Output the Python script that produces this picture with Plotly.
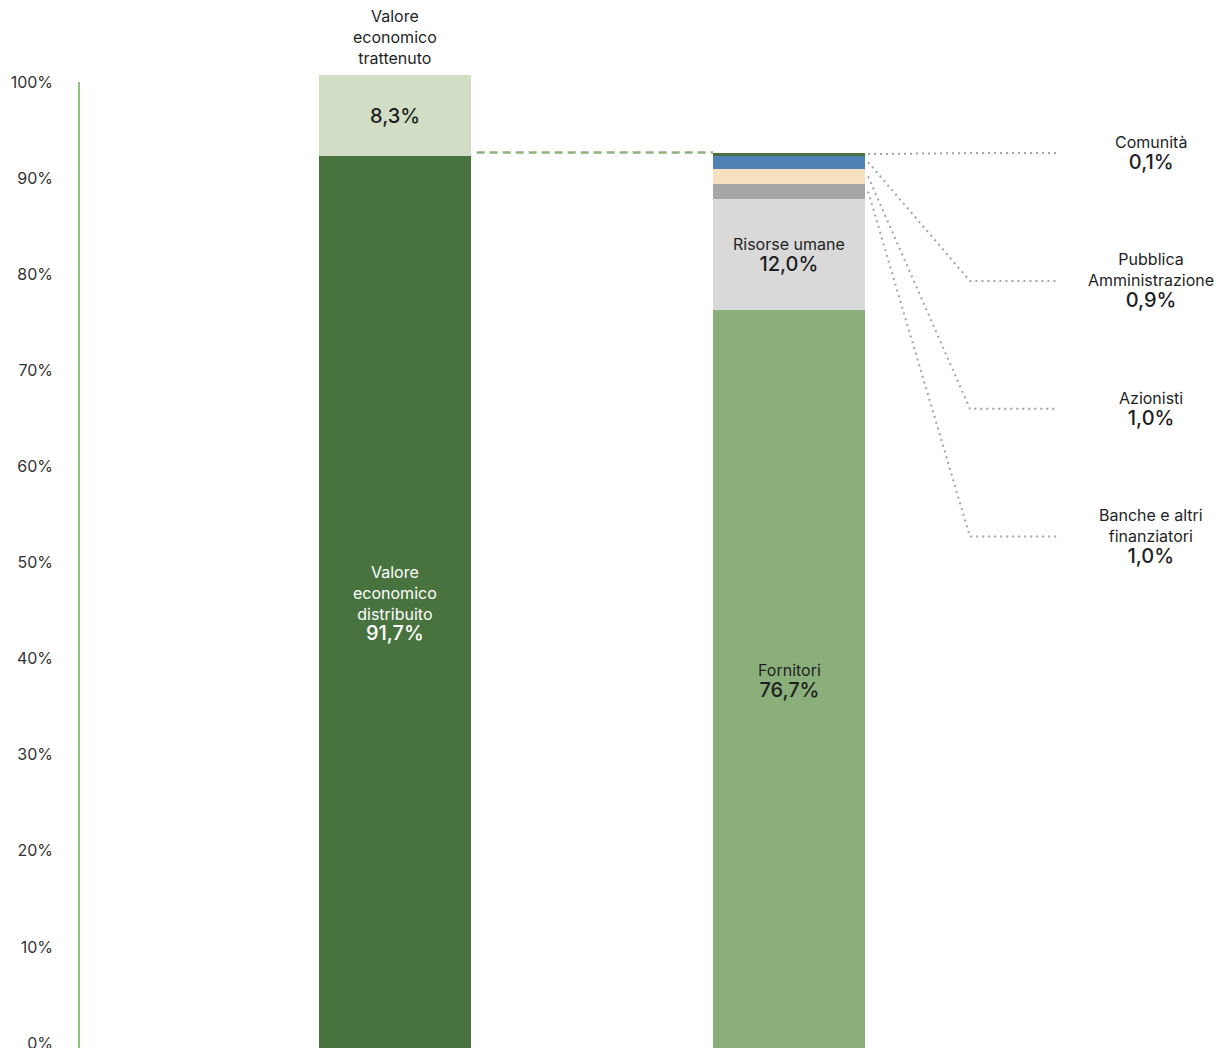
import plotly.graph_objects as go

# ---------------- data ----------------
LEFT_NAMES = ["Valore economico distribuito", "Valore economico trattenuto"]
LEFT_VALUES = [91.7, 8.3]
LEFT_LABELS = ["91,7%", "8,3%"]

RIGHT_NAMES = ["Fornitori", "Risorse umane", "Banche e altri finanziatori",
               "Azionisti", "Pubblica Amministrazione", "Comunità"]
RIGHT_LABELS = ["76,7%", "12,0%", "1,0%", "1,0%", "0,9%", "0,1%"]
# segment heights as drawn in the picture (small segments are enlarged there)
RIGHT_HEIGHTS = [75.9, 11.4, 1.5, 1.6, 1.35, 0.3]

Y_TICK_VALUES = [0, 10, 20, 30, 40, 50, 60, 70, 80, 90, 100]
Y_TICK_TEXT = ["0%", "10%", "20%", "30%", "40%", "50%", "60%", "70%", "80%", "90%", "100%"]

# ---------------- style ----------------
LEFT_COLORS = ["#48733F", "#D1DEC5"]
RIGHT_COLORS = ["#8AAF7B", "#D9D9D9", "#A6A6A6", "#F5E1C0", "#4F82B4", "#48733F"]
FONT = "Inter, Liberation Sans, Arial, sans-serif"
TXT = "#1f1f1f"
BAR_W = 0.386
LEFT_X, RIGHT_X = 0, 1
X_START, X_KNEE, X_END, X_LABEL = 1.2005, 1.459, 1.683, 1.919
LABEL_ROWS = {"Comunità": 92.0, "Pubblica Amministrazione": 78.9,
              "Azionisti": 65.8, "Banche e altri finanziatori": 52.7}
WRAPPED = {"Banche e altri finanziatori": "Banche e altri<br>finanziatori",
           "Pubblica Amministrazione": "Pubblica<br>Amministrazione"}

def pct(s):
    return f"<span style='font-size:20px;font-weight:500'>{s}</span>"

fig = go.Figure()

for name, v, c in zip(LEFT_NAMES, LEFT_VALUES, LEFT_COLORS):
    fig.add_trace(go.Bar(x=[LEFT_X], y=[v], width=BAR_W, name=name,
                         marker=dict(color=c, line=dict(width=0)),
                         hoverinfo="skip", showlegend=False))

for name, v, c in zip(RIGHT_NAMES, RIGHT_HEIGHTS, RIGHT_COLORS):
    fig.add_trace(go.Bar(x=[RIGHT_X], y=[v], width=BAR_W, name=name,
                         marker=dict(color=c, line=dict(width=0)),
                         hoverinfo="skip", showlegend=False))

# empty trace so that the percentage axis (y2) is drawn
fig.add_trace(go.Scatter(x=[], y=[], yaxis="y2", mode="markers",
                         hoverinfo="skip", showlegend=False))

# cumulative positions
left_bottoms = [sum(LEFT_VALUES[:i]) for i in range(len(LEFT_VALUES))]
right_bottoms = [sum(RIGHT_HEIGHTS[:i]) for i in range(len(RIGHT_HEIGHTS))]
right_top = sum(RIGHT_HEIGHTS)

# dashed link between the two bars
fig.add_trace(go.Scatter(x=[LEFT_X + BAR_W / 2 + 0.014, RIGHT_X - BAR_W / 2],
                         y=[right_top, right_top], mode="lines",
                         line=dict(color="#8DB47F", width=2.5, dash="8px,5px"),
                         hoverinfo="skip", showlegend=False))

# dotted connectors for the small segments
for i in range(2, len(RIGHT_NAMES)):
    mid = right_bottoms[i] + RIGHT_HEIGHTS[i] / 2
    row = LABEL_ROWS[RIGHT_NAMES[i]]
    fig.add_trace(go.Scatter(x=[X_START, X_KNEE, X_END], y=[mid, row, row],
                             mode="lines",
                             line=dict(color="#A3A3A3", width=2, dash="2px,4px"),
                             hoverinfo="skip", showlegend=False))
    fig.add_annotation(x=X_LABEL, y=row, xref="x", yref="y",
                       text=WRAPPED.get(RIGHT_NAMES[i], RIGHT_NAMES[i]) + "<br>" + pct(RIGHT_LABELS[i]),
                       showarrow=False, xanchor="center", yanchor="middle",
                       font=dict(family=FONT, size=16, color=TXT))

# labels inside bars
fig.add_annotation(x=LEFT_X, y=left_bottoms[0] + LEFT_VALUES[0] / 2, xref="x", yref="y",
                   text="Valore<br>economico<br>distribuito<br>" + pct(LEFT_LABELS[0]),
                   showarrow=False, font=dict(family=FONT, size=16, color="white"))
fig.add_annotation(x=LEFT_X, y=left_bottoms[1] + LEFT_VALUES[1] / 2, xref="x", yref="y",
                   text=pct(LEFT_LABELS[1]), showarrow=False,
                   font=dict(family=FONT, size=16, color=TXT))
fig.add_annotation(x=LEFT_X, y=100, xref="x", yref="y",
                   text="Valore<br>economico<br>trattenuto", showarrow=False,
                   yanchor="bottom", yshift=5,
                   font=dict(family=FONT, size=16, color=TXT))
for i in range(2):
    fig.add_annotation(x=RIGHT_X, y=right_bottoms[i] + RIGHT_HEIGHTS[i] / 2, xref="x", yref="y",
                       text=RIGHT_NAMES[i] + "<br>" + pct(RIGHT_LABELS[i]), showarrow=False,
                       font=dict(family=FONT, size=16, color=TXT))

fig.update_layout(
    width=1225, height=1048,
    margin=dict(l=80, r=0, t=75, b=0, autoexpand=False),
    barmode="stack",
    plot_bgcolor="rgba(0,0,0,0)", paper_bgcolor="white",
    font=dict(family=FONT, color=TXT),
    xaxis=dict(range=[-0.8, 2.1066], visible=False, fixedrange=True),
    yaxis=dict(range=[0.3, 100], visible=False, fixedrange=True),
    yaxis2=dict(anchor="x", domain=[0, 0.9928], range=[-0.52, 100],
                tickvals=Y_TICK_VALUES, ticktext=Y_TICK_TEXT,
                showline=True, linecolor="#8CC27C", linewidth=1.5,
                showgrid=False, zeroline=False, ticks="", automargin=False,
                ticklabelstandoff=22, ticklabeloverflow="allow", fixedrange=True,
                tickfont=dict(family=FONT, size=16, color="#333333")),
)

fig.write_html("out.html", config={"displayModeBar": False},
               post_script="document.body.style.margin='0';")
